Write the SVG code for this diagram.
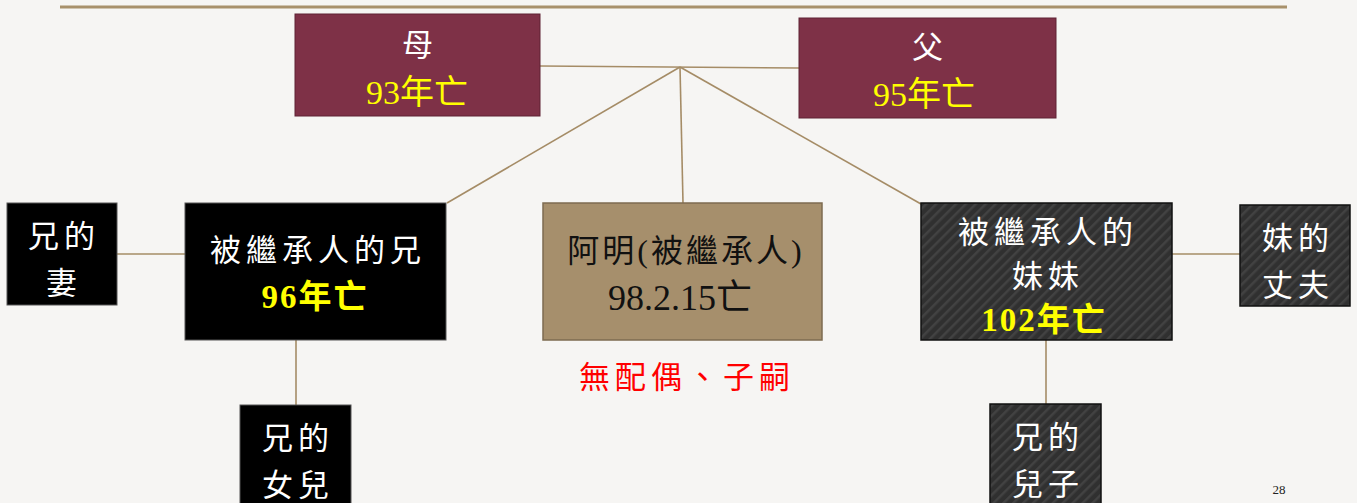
<svg xmlns="http://www.w3.org/2000/svg" width="1357" height="503" viewBox="0 0 1357 503">
<defs>
<pattern id="stripe" patternUnits="userSpaceOnUse" width="7" height="7" patternTransform="rotate(45)">
<rect width="7" height="7" fill="#303030"/>
<rect width="2.5" height="7" fill="#424242"/>
</pattern>
<style>
.conn{stroke:#a58c66;stroke-width:1.6;fill:none}
.maroon{fill:#7e3147;stroke:#5e2234;stroke-width:1}
.black{fill:#000;stroke:#555;stroke-width:1}
.striped{fill:url(#stripe);stroke:#111;stroke-width:1.5}
.tan{fill:#a68f6c;stroke:#7d6b50;stroke-width:1.5}
.t{font-family:"Liberation Serif","Noto Sans CJK TC",serif;text-anchor:middle}
.w{fill:#fff;font-size:31px;letter-spacing:5px}
.y{fill:#ffff00;font-size:34px}
.yb{fill:#ffff00;font-size:33px;font-weight:bold;letter-spacing:2px}
.k{fill:#111;font-size:32px;letter-spacing:3px}
</style>
</defs>
<rect width="1357" height="503" fill="#f6f5f3"/>
<line x1="60" y1="7" x2="1287" y2="7" stroke="#a8916b" stroke-width="3"/>
<g id="connectors">
<line class="conn" x1="540" y1="66" x2="799" y2="68"/>
<line class="conn" x1="680" y1="67" x2="447" y2="203"/>
<line class="conn" x1="680" y1="67" x2="683" y2="203"/>
<line class="conn" x1="680" y1="67" x2="921" y2="204"/>
<line class="conn" x1="117" y1="254" x2="185" y2="254"/>
<line class="conn" x1="1172" y1="254" x2="1240" y2="254"/>
<line class="conn" x1="296" y1="340" x2="296" y2="405"/>
<line class="conn" x1="1046" y1="340" x2="1046" y2="404"/>
</g>
<g id="mother">
<rect class="maroon" x="295" y="14" width="245" height="102"/>
<text class="t w" x="420" y="56">母</text>
<text class="t y" x="417" y="104">93年亡</text>
</g>
<g id="father">
<rect class="maroon" x="799" y="18" width="257" height="100"/>
<text class="t w" x="930" y="58">父</text>
<text class="t y" x="924" y="106">95年亡</text>
</g>
<g id="brother-wife">
<rect class="black" x="7" y="203" width="110" height="102"/>
<text class="t w" x="64" y="247">兄的</text>
<text class="t w" x="64" y="294">妻</text>
</g>
<g id="brother">
<rect class="black" x="185" y="203" width="261" height="137"/>
<text class="t w" x="318" y="261">被繼承人的兄</text>
<text class="t yb" x="315" y="308">96年亡</text>
</g>
<g id="ming">
<rect class="tan" x="543" y="203" width="279" height="137"/>
<text class="t k" x="686" y="262">阿明(被繼承人)</text>
<text class="t" x="680" y="310" fill="#111" font-size="36">98.2.15亡</text>
</g>
<text class="t" x="687" y="388" fill="#ff0000" font-size="31" letter-spacing="5">無配偶、子嗣</text>
<g id="sister">
<rect class="striped" x="921" y="203" width="251" height="137"/>
<text class="t w" x="1048" y="243">被繼承人的</text>
<text class="t w" x="1048" y="287">妹妹</text>
<text class="t yb" x="1044" y="331">102年亡</text>
</g>
<g id="sister-husband">
<rect class="striped" x="1240" y="205" width="110" height="101"/>
<text class="t w" x="1298" y="249">妹的</text>
<text class="t w" x="1298" y="296">丈夫</text>
</g>
<g id="brother-daughter">
<rect class="black" x="240" y="405" width="111" height="110"/>
<text class="t w" x="298" y="449">兄的</text>
<text class="t w" x="298" y="496">女兒</text>
</g>
<g id="brother-son">
<rect class="striped" x="990" y="404" width="111" height="110"/>
<text class="t w" x="1048" y="448">兄的</text>
<text class="t w" x="1048" y="495">兒子</text>
</g>
<text x="1279" y="494" font-family="Liberation Serif,serif" font-size="13" fill="#222" text-anchor="middle">28</text>
</svg>
